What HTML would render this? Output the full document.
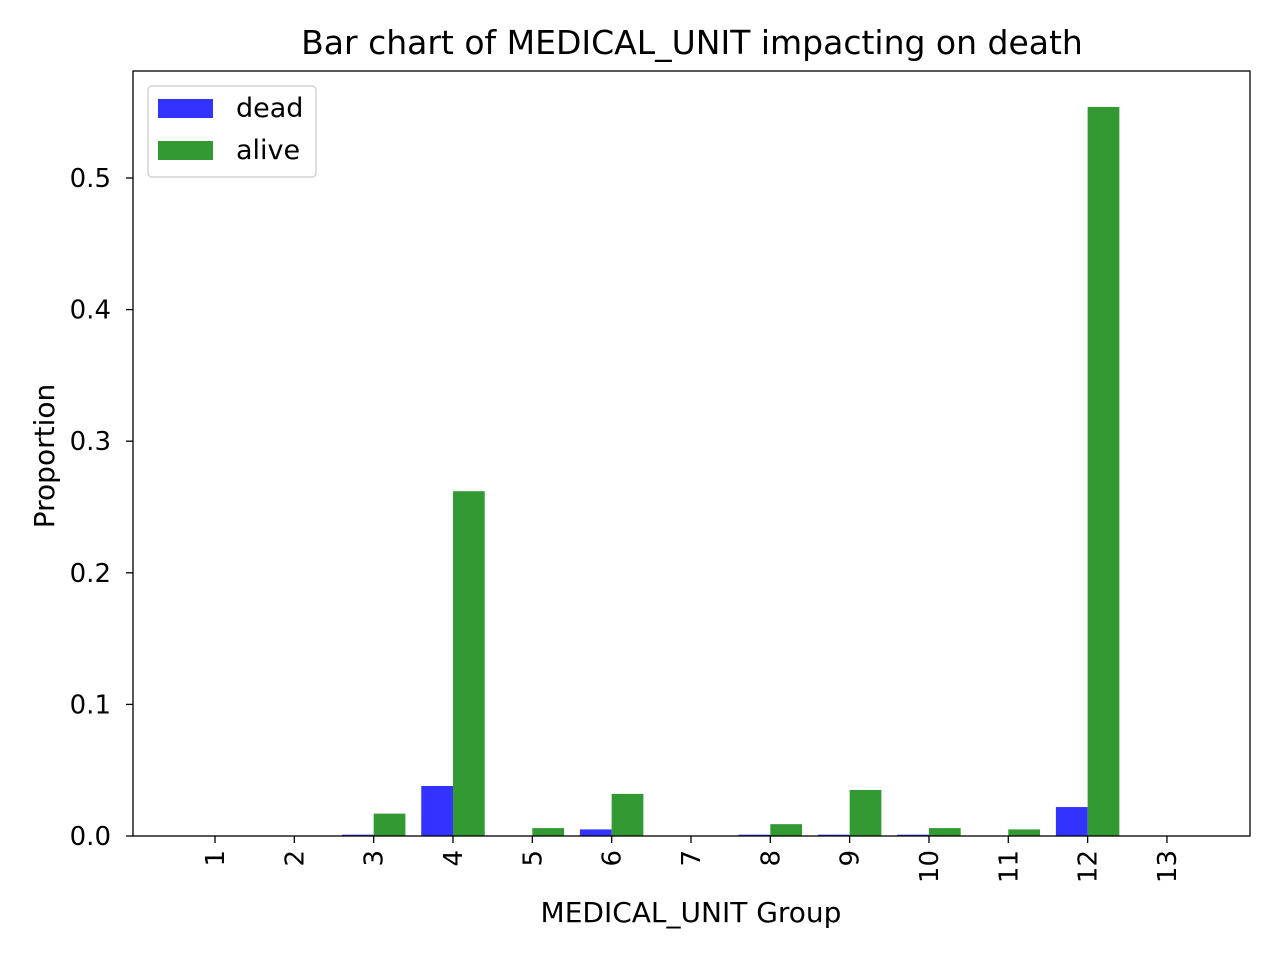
<!DOCTYPE html>
<html><head><meta charset="utf-8"><style>
body{margin:0;background:#fff;font-family:"Liberation Sans","DejaVu Sans",sans-serif;}
</style></head><body>
<svg id="chart" width="1280" height="960" xmlns="http://www.w3.org/2000/svg" font-family="DejaVu Sans, Liberation Sans, sans-serif">
<rect width="1280" height="960" fill="#fff"/>
<text x="692" y="54" text-anchor="middle" font-size="33">Bar chart of MEDICAL_UNIT impacting on death</text>
<g id="bars"></g>
<g id="axes"></g>
<rect x="133" y="71" width="1117" height="765" fill="none" stroke="#000" stroke-width="1.3"/>
<text transform="translate(54,456) rotate(-90)" text-anchor="middle" font-size="28">Proportion</text>
<text x="691" y="922" text-anchor="middle" font-size="28">MEDICAL_UNIT Group</text>
<g>
<rect x="148" y="86" width="168" height="91" rx="4" fill="#fff" stroke="#ccc" stroke-width="1.3"/>
<rect x="158" y="99" width="55" height="19" fill="#3333ff"/>
<text x="236" y="117" font-size="27">dead</text>
<rect x="158" y="141" width="55" height="19" fill="#339933"/>
<text x="236" y="159" font-size="27">alive</text>
</g>
</svg>
<script>
const categories=[1,2,3,4,5,6,7,8,9,10,11,12,13];
const deadValues=[0,0,0.001,0.038,0,0.005,0,0.001,0.001,0.001,0,0.022,0];
const aliveValues=[0,0,0.017,0.262,0.006,0.032,0,0.009,0.035,0.006,0.005,0.554,0];
const yTicks=[0,0.1,0.2,0.3,0.4,0.5];
const yTickLabels=["0.0","0.1","0.2","0.3","0.4","0.5"];
const NS="http://www.w3.org/2000/svg";
function xs(c){return 215+(c-1)*79.33;}
function ys(v){return 836-v*1316;}
const bw=0.4*79.33;
const bars=document.getElementById('bars'),axes=document.getElementById('axes');
function mk(tag,attrs,parent){const e=document.createElementNS(NS,tag);for(const k in attrs)e.setAttribute(k,attrs[k]);parent.appendChild(e);return e;}
categories.forEach((c,i)=>{
  let r=mk('rect',{x:xs(c)-bw,y:ys(deadValues[i]),width:bw,height:836-ys(deadValues[i]),fill:'#3333ff'},bars);
  
  
  r=mk('rect',{x:xs(c),y:ys(aliveValues[i]),width:bw,height:836-ys(aliveValues[i]),fill:'#339933'},bars);
  
  
  const t=mk('line',{x1:xs(c),x2:xs(c),y1:836,y2:843,stroke:'#000','stroke-width':1.3},axes);
  
  
  const l=mk('text',{transform:`translate(${xs(c)+9},${850}) rotate(-90)`,'text-anchor':'end','font-size':26},axes);
  l.textContent=c;
  
  
});
yTicks.forEach((v,i)=>{
  const t=mk('line',{x1:126,x2:133,y1:ys(v),y2:ys(v),stroke:'#000','stroke-width':1.3},axes);
  
  
  const l=mk('text',{x:111,y:ys(v)+9,'text-anchor':'end','font-size':26},axes);
  l.textContent=yTickLabels[i];
  
  
});
</script>
</body></html>
